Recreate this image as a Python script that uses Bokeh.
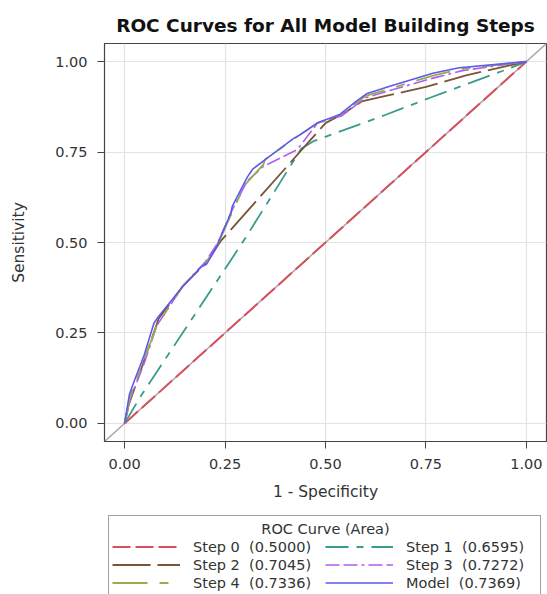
from bokeh.plotting import figure
from bokeh.models import (Range1d, FixedTicker, NumeralTickFormatter, Legend, LegendItem, Slope, Label)
from bokeh.layouts import column
from bokeh.embed import file_html
from bokeh.resources import INLINE

# ---- data ----
step0_x = [0.0, 1.0]
step0_y = [0.0, 1.0]

step1_x = [0.0, 0.04, 0.148, 0.297, 0.44, 0.47, 0.65, 0.76, 0.94, 1.0]
step1_y = [0.0, 0.075, 0.256, 0.506, 0.76, 0.78, 0.853, 0.90, 0.974, 1.0]

step2_x = [0.0, 0.01, 0.085, 0.145, 0.20, 0.24, 0.46, 0.50, 0.55, 0.59, 0.65, 0.75, 0.85, 1.0]
step2_y = [0.0, 0.05, 0.29, 0.38, 0.44, 0.505, 0.78, 0.83, 0.86, 0.89, 0.905, 0.93, 0.962, 1.0]

step3_x = [0.0, 0.015, 0.05, 0.08, 0.145, 0.20, 0.23, 0.268, 0.305, 0.345, 0.43, 0.48, 0.54, 0.60, 0.66, 0.77, 0.84, 1.0]
step3_y = [0.0, 0.07, 0.17, 0.27, 0.38, 0.445, 0.495, 0.59, 0.67, 0.71, 0.757, 0.83, 0.85, 0.90, 0.92, 0.955, 0.975, 1.0]

step4_x = [0.0, 0.015, 0.05, 0.08, 0.145, 0.20, 0.23, 0.27, 0.30, 0.345, 0.35, 0.42, 0.48, 0.54, 0.60, 0.66, 0.77, 0.84, 1.0]
step4_y = [0.0, 0.08, 0.18, 0.27, 0.38, 0.44, 0.49, 0.59, 0.66, 0.715, 0.73, 0.785, 0.83, 0.855, 0.905, 0.925, 0.962, 0.98, 1.0]

model_x = [0.0, 0.012, 0.021, 0.049, 0.073, 0.084, 0.144, 0.19, 0.204, 0.227, 0.239, 0.264, 0.268, 0.305, 0.319,
           0.35, 0.42, 0.437, 0.482, 0.536, 0.577, 0.602, 0.66, 0.767, 0.833, 1.0]
model_y = [0.0, 0.08, 0.108, 0.19, 0.277, 0.295, 0.377, 0.432, 0.44, 0.483, 0.516, 0.58, 0.60, 0.68, 0.703,
           0.729, 0.787, 0.798, 0.832, 0.854, 0.891, 0.911, 0.932, 0.968, 0.983, 1.0]

series_names = ["Step 0", "Step 1", "Step 2", "Step 3", "Step 4", "Model"]
series_areas = ["0.5000", "0.6595", "0.7045", "0.7272", "0.7336", "0.7369"]
tick_values = [0.0, 0.25, 0.5, 0.75, 1.0]
legend_title = "ROC Curve (Area)"

FONT = "DejaVu Sans"
TXT = "#333333"

p = figure(width=547, height=511, output_backend="svg", toolbar_location=None,
           x_range=Range1d(-0.05, 1.05), y_range=Range1d(-0.05, 1.05),
           min_border_left=103, min_border_right=1, min_border_top=43, min_border_bottom=70,
           title="ROC Curves for All Model Building Steps")

p.title.text_font = FONT
p.title.text_font_size = "18.5px"
p.title.text_font_style = "bold"
p.title.text_color = "#111111"
p.title.align = "center"
p.title.standoff = 16

p.background_fill_color = "white"
p.border_fill_color = "white"
p.outline_line_color = "#444444"
p.outline_line_width = 1.2

for ax in (p.xaxis[0], p.yaxis[0]):
    ax.ticker = FixedTicker(ticks=tick_values)
    ax.formatter = NumeralTickFormatter(format="0.00")
    ax.major_label_text_font = FONT
    ax.major_label_text_font_size = "14.5px"
    ax.major_label_text_color = TXT
    ax.axis_label_text_font = FONT
    ax.axis_label_text_font_size = "15.5px"
    ax.axis_label_text_font_style = "normal"
    ax.axis_label_text_color = TXT
    ax.axis_line_color = "#444444"
    ax.major_tick_line_color = "#444444"
    ax.major_tick_out = 7
    ax.major_tick_in = 0
    ax.minor_tick_line_color = None
    ax.major_label_standoff = 10

p.xaxis.axis_label = "1 - Specificity"
p.yaxis.axis_label = "Sensitivity"
p.xaxis.axis_label_standoff = 11
p.yaxis.axis_label_standoff = 24

p.grid.grid_line_color = "#e3e3e3"
p.grid.grid_line_width = 1.2
p.xgrid.ticker = FixedTicker(ticks=tick_values)
p.ygrid.ticker = FixedTicker(ticks=tick_values)

# diagonal reference line across the whole frame (behind the curves)
p.add_layout(Slope(gradient=1, y_intercept=0, line_color="#a8a8a8", line_width=1.5, level="underlay"))

styles = [
    (step0_x, step0_y, "#d8505e", "18 5", 2.0),
    (step1_x, step1_y, "#3a9a8b", "23 8 7 8", 1.8),
    (step2_x, step2_y, "#7a5535", "38 7", 1.8),
    (step3_x, step3_y, "#b25cf0", "14 4 14 4 3 4", 1.6),
    (step4_x, step4_y, "#9aab4e", "35 12 9 12", 1.8),
    (model_x, model_y, "#5a5af2", "solid", 1.6),
]

for xs, ys, col, dash, lw in styles:
    p.line(xs, ys, line_color=col, line_dash=dash, line_width=lw)

# ---- legend panel (second figure below the chart) ----
lg = figure(width=547, height=83, output_backend="svg", toolbar_location=None,
            x_axis_location=None, y_axis_location=None,
            min_border_left=104, min_border_right=0, min_border_top=0, min_border_bottom=0)
lg.outline_line_color = None
lg.grid.visible = False
lg.background_fill_color = "white"
lg.border_fill_color = "white"

legend_renderers = []
for xs, ys, col, dash, lw in styles:
    r = lg.line(xs, ys, line_color=col, line_dash=dash, line_width=lw, visible=False)
    legend_renderers.append(r)

labels = [f"{n}  ({a})" for n, a in zip(series_names, series_areas)]
order = [0, 2, 4, 1, 3, 5]
items = [LegendItem(label=labels[i], renderers=[legend_renderers[i]]) for i in order]

legend = Legend(items=items, ncols=2, orientation="vertical",
                title="\u00a0",
                title_text_font=FONT, title_text_font_size="14.5px", title_text_color=TXT,
                title_standoff=3,
                label_text_font=FONT, label_text_font_size="14.5px", label_text_color=TXT,
                glyph_width=68, glyph_height=17, label_height=17, label_width=131,
                label_standoff=13, spacing=1, padding=3, margin=4,
                border_line_color="#444444", border_line_width=1,
                background_fill_alpha=0, location="top_left")
lg.add_layout(legend, "center")

lg.add_layout(Label(x=221, y=66, x_units="screen", y_units="screen", text=legend_title,
                    text_align="center", text_baseline="middle", level="overlay",
                    text_font=FONT, text_font_size="14.5px", text_color=TXT))

layout = column(p, lg, spacing=0)
open("out.html", "w").write(file_html(layout, INLINE))
